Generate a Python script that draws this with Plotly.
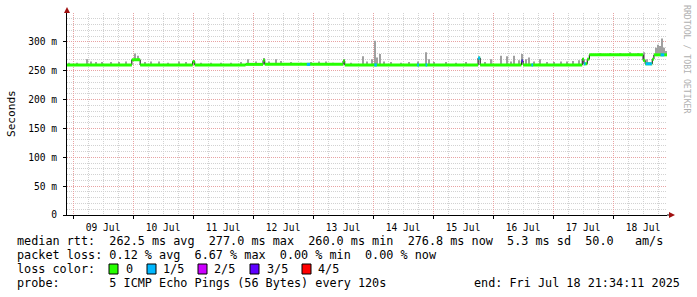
import plotly.graph_objects as go
import pandas as pd
import numpy as np

# ---------------- data ----------------
range_start = "2025-07-08 21:34:11"
range_end = "2025-07-18 21:34:11"

# median rtt (ms), step function: value holds from time until next time
median_times = ["2025-07-08 21:34", "2025-07-09 23:30", "2025-07-10 02:50", "2025-07-10 23:50",
                "2025-07-11 00:40", "2025-07-11 21:00", "2025-07-12 04:00", "2025-07-12 04:40",
                "2025-07-13 12:00", "2025-07-13 12:40", "2025-07-15 18:00", "2025-07-15 18:50",
                "2025-07-16 11:20", "2025-07-16 12:00", "2025-07-17 11:40", "2025-07-17 12:20",
                "2025-07-17 13:40", "2025-07-17 14:30", "2025-07-18 12:00", "2025-07-18 12:50",
                "2025-07-18 15:40", "2025-07-18 16:20"]
median_ms = [260, 269, 260, 266,
             260, 261, 268, 261,
             267, 260, 272, 260,
             267, 260, 270, 262,
             270, 277.5, 268, 262,
             270, 277.5]

# smoke (ping spread): time and top rtt (ms)
smoke_times = ["2025-07-08 22:20", "2025-07-09 01:30", "2025-07-09 05:45", "2025-07-09 07:05",
               "2025-07-09 09:05", "2025-07-09 11:30", "2025-07-09 15:05", "2025-07-09 18:15",
               "2025-07-09 21:05", "2025-07-10 00:50", "2025-07-10 01:55", "2025-07-10 04:40",
               "2025-07-10 07:05", "2025-07-10 10:15", "2025-07-10 13:55", "2025-07-10 18:15",
               "2025-07-10 21:05", "2025-07-11 00:15", "2025-07-11 03:05", "2025-07-11 07:05",
               "2025-07-11 11:05", "2025-07-11 15:05", "2025-07-11 19:05", "2025-07-11 21:55",
               "2025-07-12 01:05", "2025-07-12 04:15", "2025-07-12 06:15", "2025-07-12 09:05",
               "2025-07-12 11:05", "2025-07-12 15:05", "2025-07-12 19:05", "2025-07-12 23:05",
               "2025-07-13 02:15", "2025-07-13 05:05", "2025-07-13 07:55", "2025-07-13 12:15",
               "2025-07-13 15:05", "2025-07-13 20:00", "2025-07-13 21:30", "2025-07-13 23:30",
               "2025-07-14 00:40", "2025-07-14 01:30", "2025-07-14 02:50", "2025-07-14 04:15",
               "2025-07-14 07:05", "2025-07-14 11:05", "2025-07-14 14:15", "2025-07-14 17:55",
               "2025-07-14 21:05", "2025-07-14 22:15", "2025-07-15 00:15", "2025-07-15 05:05",
               "2025-07-15 09:05", "2025-07-15 13:05", "2025-07-15 18:25", "2025-07-15 20:40",
               "2025-07-15 23:25", "2025-07-16 03:05", "2025-07-16 05:45", "2025-07-16 07:05",
               "2025-07-16 08:25", "2025-07-16 10:15", "2025-07-16 11:45", "2025-07-16 13:05",
               "2025-07-16 14:15", "2025-07-16 16:15", "2025-07-16 18:40", "2025-07-16 21:30",
               "2025-07-17 00:15", "2025-07-17 03:05", "2025-07-17 05:30", "2025-07-17 07:55",
               "2025-07-17 10:15", "2025-07-17 11:55", "2025-07-17 18:55", "2025-07-17 22:55",
               "2025-07-18 02:55", "2025-07-18 06:55", "2025-07-18 09:55", "2025-07-18 12:15",
               "2025-07-18 13:30", "2025-07-18 17:05", "2025-07-18 17:55", "2025-07-18 18:40",
               "2025-07-18 19:30", "2025-07-18 20:15", "2025-07-18 21:05"]
smoke_top_ms = [264, 264, 270, 266,
                265, 265, 265, 265,
                266, 280, 276, 265,
                266, 266, 264, 266,
                265, 266, 264, 264,
                264, 264, 265, 270,
                266, 272, 266, 270,
                267, 265, 264, 265,
                266, 266, 264, 269,
                264, 275, 266, 270,
                302, 273, 279, 266,
                265, 264, 265, 266,
                282, 270, 265, 265,
                264, 265, 273, 265,
                270, 276, 275, 266,
                276, 268, 279, 270,
                273, 266, 270, 265,
                265, 266, 266, 267,
                268, 272, 279, 280,
                280, 282, 280, 282,
                270, 290, 295, 293,
                306, 290, 284]

# periods with 1/5 packet loss
loss1_start = ["2025-07-12 21:30", "2025-07-14 00:30", "2025-07-14 17:40", "2025-07-14 21:00",
               "2025-07-15 18:00", "2025-07-16 15:20", "2025-07-17 12:20", "2025-07-18 13:00",
               "2025-07-18 19:00"]
loss1_end = ["2025-07-12 22:50", "2025-07-14 01:30", "2025-07-14 18:20", "2025-07-14 21:40",
             "2025-07-15 18:50", "2025-07-16 16:00", "2025-07-17 13:00", "2025-07-18 15:30",
             "2025-07-18 20:30"]
# periods with 3/5 packet loss
loss3_start = ["2025-07-16 11:20"]
loss3_end = ["2025-07-16 12:00"]

y_tick_vals = [0, 0.05, 0.10, 0.15, 0.20, 0.25, 0.30]
y_tick_text = ["0", "50 m", "100 m", "150 m", "200 m", "250 m", "300 m"]

loss_colors = ["#26ff00", "#00b8ff", "#cc00ff", "#5e00ff", "#ff0000"]
loss_labels = ["0", "1/5", "2/5", "3/5", "4/5"]

# ---------------- helpers ----------------
mt = pd.to_datetime(median_times)
mv = np.array(median_ms) / 1000.0
t_end = pd.to_datetime(range_end)


def median_at(ts):
    idx = np.searchsorted(mt.values, pd.to_datetime(ts).values, side="right") - 1
    return mv[np.clip(idx, 0, len(mv) - 1)]


def segments(starts, ends):
    xs, ys = [], []
    s = pd.to_datetime(starts)
    e = pd.to_datetime(ends)
    vals = median_at(starts)
    for a, b, v in zip(s, e, vals):
        xs += [a, b, None]
        ys += [v, v, None]
    return xs, ys


# ---------------- figure ----------------
fig = go.Figure()

st = pd.to_datetime(smoke_times)
base = median_at(smoke_times)
top = np.array(smoke_top_ms) / 1000.0
fig.add_trace(go.Bar(x=st, y=np.maximum(top - base, 0), base=base, width=2.0e6,
                     marker=dict(color="#a0a0a0", line=dict(width=0)), hoverinfo="skip"))

# black step line (visible at the jumps)
fig.add_trace(go.Scatter(x=list(mt) + [t_end], y=list(mv) + [mv[-1]], mode="lines",
                         line=dict(color="#000000", width=1, shape="hv"), hoverinfo="skip"))

# green horizontal segments
gx, gy = [], []
for i in range(len(mt)):
    a = mt[i]
    b = mt[i + 1] if i + 1 < len(mt) else t_end
    gx += [a, b, None]
    gy += [mv[i], mv[i], None]
fig.add_trace(go.Scatter(x=gx, y=gy, mode="lines", line=dict(color=loss_colors[0], width=3),
                         hoverinfo="skip"))

bx, by = segments(loss1_start, loss1_end)
fig.add_trace(go.Scatter(x=bx, y=by, mode="lines", line=dict(color=loss_colors[1], width=3),
                         hoverinfo="skip"))
px_, py_ = segments(loss3_start, loss3_end)
fig.add_trace(go.Scatter(x=px_, y=py_, mode="lines", line=dict(color=loss_colors[3], width=3),
                         hoverinfo="skip"))

MONO = "DejaVu Sans Mono"
TICK = 9.6
L, R, T, B = 67, 30, 13, 82
W, H = 697, 297
PW = W - L - R
PH = H - T - B


def pxx(x):
    return (x - L) / PW


def pxy(y):
    return (H - B - y) / PH


MGRID = "#e8a3a3"
GRID = "#d2d2d2"

fig.update_layout(
    width=W, height=H,
    margin=dict(l=L, r=R, t=T, b=B, pad=0),
    paper_bgcolor="#ffffff", plot_bgcolor="#ffffff",
    showlegend=False, barmode="overlay",
    font=dict(family=MONO, size=11.8, color="#000000"),
    xaxis=dict(type="date", range=[range_start, range_end], tick0="2025-07-09",
               dtick=86400000, tickformat="%d %b", ticklabelmode="period",
               showgrid=True, gridcolor=MGRID, griddash="1px,1px", gridwidth=1,
               minor=dict(dtick=21600000, tick0="2025-07-09", showgrid=True, gridcolor=GRID,
                          griddash="1px,1px", gridwidth=1),
               ticks="outside", ticklen=3, tickcolor="#000000",
               showline=True, linecolor="#000000", linewidth=1, zeroline=False,
               tickfont=dict(family=MONO, size=TICK, color="#000000")),
    yaxis=dict(range=[0, 0.35], tickmode="array", tickvals=y_tick_vals, ticktext=y_tick_text,
               showgrid=True, gridcolor=MGRID, griddash="1px,1px", gridwidth=1,
               minor=dict(tickmode="linear", tick0=0, dtick=0.01, showgrid=True,
                          gridcolor=GRID, griddash="1px,1px", gridwidth=1),
               ticks="outside", ticklen=3, tickcolor="#000000", ticklabelstandoff=4,
               showline=True, linecolor="#000000", linewidth=1, zeroline=False,
               tickfont=dict(family=MONO, size=TICK, color="#000000")),
)

shapes = []
# axis extensions and arrows
shapes.append(dict(type="line", xref="paper", yref="paper", x0=0, x1=0, y0=1, y1=pxy(11),
                   line=dict(color="#000000", width=1)))
shapes.append(dict(type="line", xref="paper", yref="paper", x0=1, x1=pxx(670), y0=0, y1=0,
                   line=dict(color="#000000", width=1)))
shapes.append(dict(type="path", xref="paper", yref="paper",
                   path=f"M {pxx(64)} {pxy(13)} L {pxx(67)} {pxy(7)} L {pxx(70)} {pxy(13)} Z",
                   fillcolor="#a01010", line=dict(color="#a01010", width=0)))
shapes.append(dict(type="path", xref="paper", yref="paper",
                   path=f"M {pxx(669)} {pxy(212)} L {pxx(675)} {pxy(215)} L {pxx(669)} {pxy(218)} Z",
                   fillcolor="#a01010", line=dict(color="#a01010", width=0)))

# legend boxes
box_left = [109, 147, 198, 250, 302]
text_left = [125, 162, 213, 266, 317]
for bl, c in zip(box_left, loss_colors):
    shapes.append(dict(type="rect", xref="paper", yref="paper", x0=pxx(bl), x1=pxx(bl + 9),
                       y0=pxy(264), y1=pxy(274), fillcolor=c,
                       line=dict(color="#000000", width=1)))
fig.update_layout(shapes=shapes)

NB = "\u00a0"


def nb(s):
    return s.replace(" ", NB)


ann = []


def text(x, y, s, anchor="left", size=11.8, color="#000000", angle=0):
    ann.append(dict(xref="paper", yref="paper", x=pxx(x), y=pxy(y), text=nb(s), showarrow=False,
                    xanchor=anchor, yanchor="middle", textangle=angle, borderpad=0,
                    font=dict(family=MONO, size=size, color=color)))


text(16, 241, "median rtt:  262.5 ms avg  277.0 ms max  260.0 ms min  276.8 ms now  5.3 ms sd  50.0   am/s")
text(16, 255, "packet loss: 0.12 % avg  6.67 % max  0.00 % min  0.00 % now")
text(16, 269, "loss color:")
for tl, lab in zip(text_left, loss_labels):
    text(tl, 269, lab)
text(16, 283, "probe:       5 ICMP Echo Pings (56 Bytes) every 120s")
text(681, 283, "end: Fri Jul 18 21:34:11 2025", anchor="right")
ann.append(dict(xref="paper", yref="paper", x=pxx(11), y=pxy(114), text="Seconds", showarrow=False,
                xanchor="center", yanchor="middle", textangle=-90,
                font=dict(family=MONO, size=11.1, color="#000000")))
ann.append(dict(xref="paper", yref="paper", x=pxx(687), y=pxy(59), text=nb("RRDTOOL / TOBI OETIKER"),
                showarrow=False, xanchor="center", yanchor="middle", textangle=90,
                font=dict(family=MONO, size=8.2, color="#b0b0b0")))
fig.update_layout(annotations=ann)

fig.write_html("out.html")
